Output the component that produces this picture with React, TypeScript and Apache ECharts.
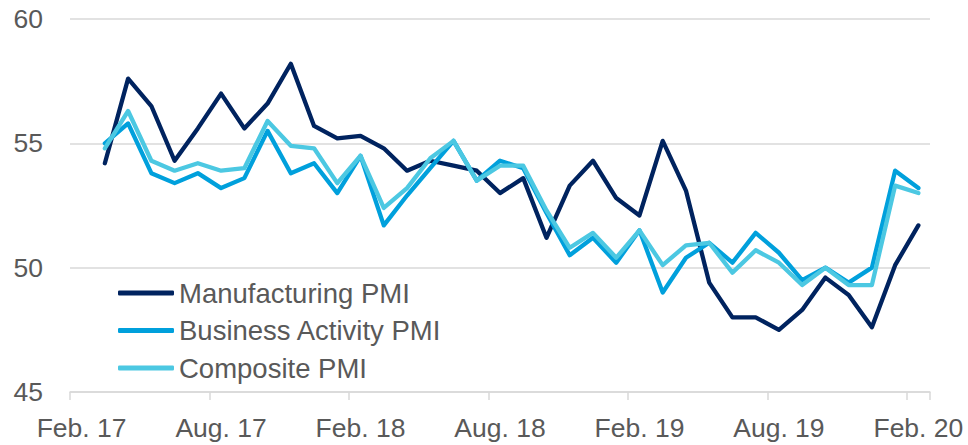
import React, { useEffect, useRef } from "react";
import * as echarts from "echarts";

const months: string[] = [
  "Feb. 17", "Mar. 17", "Apr. 17", "May 17", "Jun. 17", "Jul. 17", "Aug. 17", "Sep. 17", "Oct. 17", "Nov. 17", "Dec. 17", "Jan. 18",
  "Feb. 18", "Mar. 18", "Apr. 18", "May 18", "Jun. 18", "Jul. 18", "Aug. 18", "Sep. 18", "Oct. 18", "Nov. 18", "Dec. 18", "Jan. 19",
  "Feb. 19", "Mar. 19", "Apr. 19", "May 19", "Jun. 19", "Jul. 19", "Aug. 19", "Sep. 19", "Oct. 19", "Nov. 19", "Dec. 19", "Jan. 20",
  "Feb. 20",
];

// Values from Mar. 17 to Feb. 20 (Feb. 17 has no value)
const manufacturing: number[] = [
  54.2, 57.6, 56.5, 54.3, 55.6, 57.0, 55.6, 56.6, 58.2, 55.7,
  55.2, 55.3, 54.8, 53.9, 54.3, 54.1, 53.9, 53.0, 53.6, 51.2,
  53.3, 54.3, 52.8, 52.1, 55.1, 53.1, 49.4, 48.0, 48.0, 47.5,
  48.3, 49.6, 48.9, 47.6, 50.1, 51.7,
];
const businessActivity: number[] = [
  55.0, 55.8, 53.8, 53.4, 53.8, 53.2, 53.6, 55.5, 53.8, 54.2,
  53.0, 54.5, 51.7, 52.9, 54.0, 55.1, 53.5, 54.3, 54.0, 52.2,
  50.5, 51.2, 50.2, 51.5, 49.0, 50.4, 51.0, 50.2, 51.4, 50.6,
  49.5, 50.0, 49.4, 50.0, 53.9, 53.2,
];
const composite: number[] = [
  54.8, 56.3, 54.3, 53.9, 54.2, 53.9, 54.0, 55.9, 54.9, 54.8,
  53.4, 54.5, 52.4, 53.2, 54.4, 55.1, 53.5, 54.1, 54.1, 52.3,
  50.8, 51.4, 50.4, 51.5, 50.1, 50.9, 51.0, 49.8, 50.7, 50.2,
  49.3, 50.0, 49.3, 49.3, 53.3, 53.0,
];

const seriesNames = ["Manufacturing PMI", "Business Activity PMI", "Composite PMI"];
const seriesColors = ["#00235F", "#00A0DC", "#4CC8E2"];

const FONT = "'Liberation Sans', Arial, sans-serif";
const TEXT_COLOR = "#595959";
const GRID_COLOR = "#D9D9D9";

export default function App() {
  const ref = useRef<HTMLDivElement>(null);
  useEffect(() => {
    document.body.style.margin = "0";
    if (!ref.current) return;
    const chart = echarts.init(ref.current, undefined, { renderer: "svg" });
    const withLead = (arr: number[]) => [null as number | null, ...arr];
    const values = [manufacturing, businessActivity, composite];
    chart.setOption({
      animation: false,
      backgroundColor: "#ffffff",
      textStyle: { fontFamily: FONT },
      grid: { left: 70, right: 38, top: 19, bottom: 53, containLabel: false, outerBoundsMode: "none" },
      legend: {
        orient: "vertical",
        left: 118,
        top: 278,
        padding: 0,
        itemGap: 7.5,
        itemWidth: 56,
        itemHeight: 5,
        icon: "roundRect",
        data: seriesNames,
        textStyle: { fontFamily: FONT, fontSize: 27.5, color: TEXT_COLOR, lineHeight: 30 },
      },
      xAxis: {
        type: "category",
        data: months,
        boundaryGap: true,
        axisLine: { show: true, lineStyle: { color: GRID_COLOR, width: 1.5 } },
        axisTick: { show: true, interval: 5, length: 8, lineStyle: { color: GRID_COLOR, width: 1.5 } },
        axisLabel: { interval: 5, margin: 22, fontFamily: FONT, fontSize: 26.5, color: TEXT_COLOR },
        splitLine: { show: false },
      },
      yAxis: {
        type: "value",
        min: 45,
        max: 60,
        interval: 5,
        axisLine: { show: false },
        axisTick: { show: false },
        axisLabel: { margin: 27, fontFamily: FONT, fontSize: 26.5, color: TEXT_COLOR },
        splitLine: { show: true, lineStyle: { color: GRID_COLOR, width: 1.5 } },
      },
      series: seriesNames.map((name, k) => ({
        name,
        type: "line",
        data: withLead(values[k]),
        symbol: "none",
        showSymbol: false,
        connectNulls: false,
        color: seriesColors[k],
        lineStyle: { color: seriesColors[k], width: 4.3, cap: "round", join: "round" },
        z: 2 + k,
      })),
    });
    return () => chart.dispose();
  }, []);
  return <div ref={ref} style={{ width: 968, height: 445 }} />;
}
